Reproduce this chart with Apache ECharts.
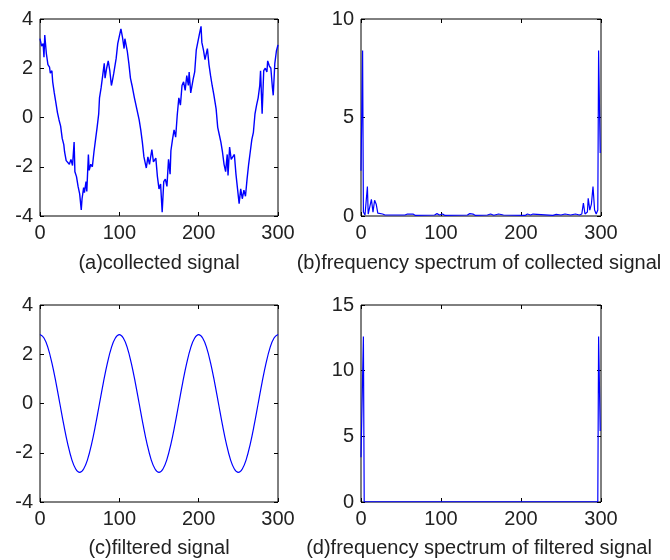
<!DOCTYPE html>
<html>
<head>
<meta charset="utf-8">
<script src="https://cdn.jsdelivr.net/npm/echarts@6/dist/echarts.min.js"></script>
<style>
html,body{margin:0;padding:0;background:#fff;}
#chart{width:670px;height:560px;}
</style>
</head>
<body>
<div id="chart"></div>
<script>
// (a) collected signal
const collectedX = [0,2,4,5,6,8,10,12,13,15,16,18,20,22,24,26,28,30,31,33,35,37,39,41,43,44,46,48,50,52,53,55,56,58,59,61,62,64,66,68,70,72,74,75,77,79,81,82,84,86,88,90,91,93,96,98,100,102,104,106,107,110,112,114,116,119,122,125,127,129,131,133,134,136,138,141,143,146,148,150,152,154,156,158,160,162,164,165,167,169,171,173,175,177,179,181,183,185,187,188,190,193,195,197,199,201,203,204,206,208,211,213,215,217,219,222,224,226,228,230,232,234,236,237,239,241,243,245,247,249,251,253,255,257,259,261,263,265,267,269,271,273,275,277,278,280,282,284,286,287,289,291,293,294,296,298,300];
const collectedY = [3.2,2.9,3.0,2.45,3.35,2.6,2.15,2.05,1.8,1.9,1.45,1.0,0.6,0.2,-0.1,-0.35,-0.85,-1.1,-1.4,-1.75,-1.7,-1.9,-1.7,-1.95,-1.0,-2.2,-2.4,-2.8,-3.1,-3.75,-3.3,-2.85,-3.05,-2.6,-3.0,-1.5,-2.15,-1.9,-2.0,-1.4,-0.9,-0.4,0.15,0.8,1.2,1.7,2.2,1.6,2.0,2.3,1.9,1.3,1.45,1.8,2.4,3.0,3.05,3.6,3.25,2.8,3.2,2.7,2.2,1.6,1.3,0.8,0.35,-0.1,-0.5,-1.0,-1.6,-1.9,-2.05,-1.6,-1.9,-1.3,-1.8,-1.65,-2.4,-2.9,-2.7,-3.85,-2.6,-2.5,-2.8,-1.7,-2.3,-1.35,-0.9,-0.5,-0.8,0.1,0.8,0.5,1.3,1.45,1.1,1.7,1.3,1.85,1.0,1.55,1.85,2.75,2.8,3.4,3.7,3.05,2.75,2.35,2.8,2.15,1.7,1.3,0.95,0.35,-0.4,-0.7,-1.0,-1.4,-1.9,-2.2,-1.5,-2.35,-1.2,-1.7,-1.75,-1.5,-2.3,-2.9,-3.5,-2.9,-3.3,-2.95,-3.2,-2.5,-1.9,-1.4,-0.9,-0.6,0.15,0.5,0.8,1.3,1.9,0.15,1.9,2.0,1.85,2.3,2.1,2.0,1.2,0.9,2.2,2.7,2.95];

// (b) frequency spectrum of collected signal
const specCollectedX = [0,2,3,5,7,8,9,11,13,15,17,19,21,23,27,30,55,58,60,65,68,92,95,98,102,105,133,136,140,143,158,162,166,172,178,205,208,212,215,240,244,250,255,262,268,273,276,278,280,283,284,286,288,290,292,294,296,297,299];
const specCollectedY = [2.3,8.4,0.2,0.05,0.1,1.5,0.1,0.1,0.85,0.2,0.8,0.6,0.15,0.05,0.1,0.05,0.05,0.1,0.03,0.1,0.03,0.05,0.12,0.05,0.1,0.03,0.05,0.12,0.1,0.03,0.05,0.1,0.04,0.1,0.05,0.03,0.1,0.05,0.1,0.03,0.08,0.05,0.1,0.05,0.1,0.05,0.1,0.65,0.1,0.2,0.9,0.3,0.6,1.5,0.3,0.1,0.3,8.4,3.2];

// (c) filtered signal
const filteredX = [0,5,10,15,20,25,30,35,40,45,50,55,60,65,70,75,80,85,90,95,100,105,110,115,120,125,130,135,140,145,150,155,160,165,170,175,180,185,190,195,200,205,210,215,220,225,230,235,240,245,250,255,260,265,270,275,280,285,290,295,300];
const filteredY = [2.8,2.66,2.27,1.65,0.87,0,-0.87,-1.65,-2.27,-2.66,-2.8,-2.66,-2.27,-1.65,-0.87,0,0.87,1.65,2.27,2.66,2.8,2.66,2.27,1.65,0.87,0,-0.87,-1.65,-2.27,-2.66,-2.8,-2.66,-2.27,-1.65,-0.87,0,0.87,1.65,2.27,2.66,2.8,2.66,2.27,1.65,0.87,0,-0.87,-1.65,-2.27,-2.66,-2.8,-2.66,-2.27,-1.65,-0.87,0,0.87,1.65,2.27,2.66,2.8];

// (d) frequency spectrum of filtered signal
const specFilteredX = [0,3,4,100,200,296,297,299];
const specFilteredY = [3.4,12.6,0.03,0.02,0.02,0.03,12.6,5.4];

const xTickRange = [0, 300, 100];
const yTickRanges = [[-4, 4, 2], [0, 10, 5], [-4, 4, 2], [0, 15, 5]];
const captions = ['(a)collected signal', '(b)frequency spectrum of collected signal', '(c)filtered signal', '(d)frequency spectrum of filtered signal'];

const zip = (xs, ys) => xs.map((x, i) => [x, ys[i]]);
const seriesData = [
  zip(collectedX, collectedY),
  zip(specCollectedX, specCollectedY),
  zip(filteredX, filteredY),
  zip(specFilteredX, specFilteredY)
];

const grids = [
  {left: 40, top: 19, width: 238, height: 197},
  {left: 361, top: 19, width: 240, height: 197},
  {left: 40, top: 305, width: 238, height: 197},
  {left: 361, top: 305, width: 240, height: 197}
];
const captionPos = [[159, 263], [479, 263], [159, 548], [479, 548]];

const FONT = '"Liberation Sans", Arial, sans-serif';
const TXT = '#222';

const xAxes = [], yAxes = [], series = [];
grids.forEach((g, i) => {
  const tickCommon = {show: true, inside: true, length: 4, lineStyle: {color: '#000', width: 1}};
  const lineOff = {show: false, onZero: false};
  xAxes.push({
    type: 'value', gridIndex: i, position: 'bottom',
    min: xTickRange[0], max: xTickRange[1], interval: xTickRange[2],
    axisLine: lineOff, splitLine: {show: false},
    axisTick: tickCommon,
    axisLabel: {fontSize: 20, fontFamily: FONT, color: TXT, margin: 7, showMinLabel: true, showMaxLabel: true}
  });
  xAxes.push({
    type: 'value', gridIndex: i, position: 'top',
    min: xTickRange[0], max: xTickRange[1], interval: xTickRange[2],
    axisLine: lineOff, splitLine: {show: false},
    axisTick: tickCommon, axisLabel: {show: false}
  });
  const yr = yTickRanges[i];
  yAxes.push({
    type: 'value', gridIndex: i, position: 'left',
    min: yr[0], max: yr[1], interval: yr[2],
    axisLine: lineOff, splitLine: {show: false},
    axisTick: tickCommon,
    axisLabel: {fontSize: 20, fontFamily: FONT, color: TXT, margin: 7, showMinLabel: true, showMaxLabel: true}
  });
  yAxes.push({
    type: 'value', gridIndex: i, position: 'right',
    min: yr[0], max: yr[1], interval: yr[2],
    axisLine: lineOff, splitLine: {show: false},
    axisTick: tickCommon, axisLabel: {show: false}
  });
  series.push({
    type: 'line', xAxisIndex: 2 * i, yAxisIndex: 2 * i,
    data: seriesData[i], showSymbol: false, silent: true,
    smooth: i === 2 ? 0.4 : false,
    lineStyle: {color: '#0000ff', width: i === 0 ? 1.4 : 1.2},
    animation: false, z: 3
  });
});

const chart = echarts.init(document.getElementById('chart'), null, {renderer: 'canvas'});
chart.setOption({
  animation: false,
  backgroundColor: '#fff',
  grid: grids.map(g => Object.assign({show: true, borderColor: '#000', borderWidth: 1, backgroundColor: 'transparent', containLabel: false}, g)),
  xAxis: xAxes,
  yAxis: yAxes,
  series: series,
  graphic: captions.map((t, i) => ({
    type: 'text', x: captionPos[i][0], y: captionPos[i][1],
    style: {text: t, font: '20px ' + FONT, fill: TXT, textAlign: 'center', textVerticalAlign: 'middle'}
  }))
});
</script>
</body>
</html>
